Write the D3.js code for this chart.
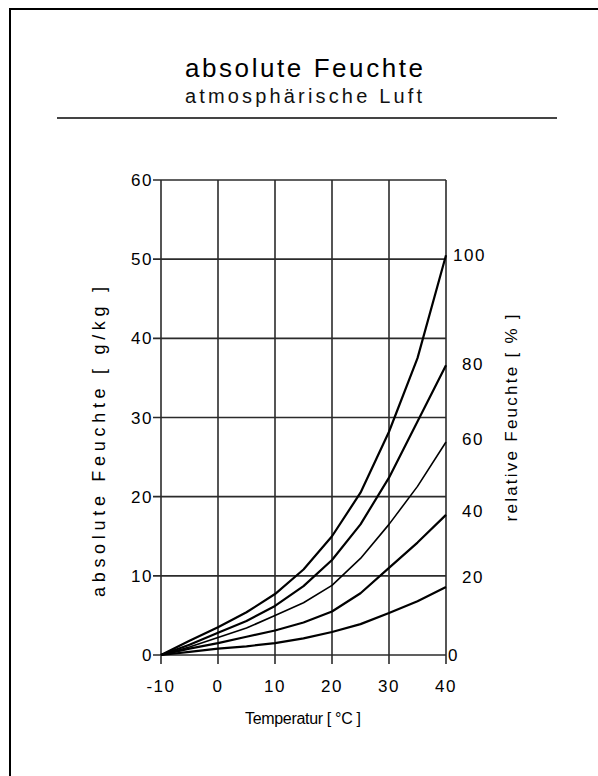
<!DOCTYPE html>
<html>
<head>
<meta charset="utf-8">
<script src="https://cdn.jsdelivr.net/npm/d3@7"></script>
<style>
  html, body { margin: 0; padding: 0; background: #fff; }
  svg { display: block; font-family: "Liberation Sans", Arial, sans-serif; }
</style>
</head>
<body>
<svg id="chart" width="598" height="776"></svg>
<script>
// temperature steps (°C)
var temps = [-10, -5, 0, 5, 10, 15, 20, 25, 30, 35, 40];
// absolute humidity in g/kg for each relative humidity
var rh100 = [0, 1.8, 3.5, 5.4, 7.7, 10.8, 15.0, 20.5, 28.2, 37.5, 50.5];
var rh80  = [0, 1.3, 2.8, 4.3, 6.2, 8.7, 12.0, 16.5, 22.4, 29.5, 36.6];
var rh60  = [0, 1.0, 2.2, 3.4, 5.0, 6.6, 8.8, 12.2, 16.5, 21.3, 26.9];
var rh40  = [0, 0.8, 1.5, 2.3, 3.1, 4.1, 5.5, 7.8, 11.0, 14.2, 17.7];
var rh20  = [0, 0.4, 0.8, 1.1, 1.5, 2.1, 2.9, 3.9, 5.3, 6.8, 8.6];
var xTicks = [-10, 0, 10, 20, 30, 40];
var yTicks = [0, 10, 20, 30, 40, 50, 60];
// right axis labels and the g/kg level where each sits
var rhLabels = ["0", "20", "40", "60", "80", "100"];
var rhLabelAt = [0, 9.8, 18.2, 27.3, 36.7, 50.5];

var svg = d3.select("#chart");

var x = d3.scaleLinear().domain([-10, 40]).range([161, 446]);
var y = d3.scaleLinear().domain([0, 60]).range([655, 180]);
var gridColor = "#2b2b2b";

// frame
svg.append("rect")
    .attr("x", 10).attr("y", 9)
    .attr("width", 640).attr("height", 800)
    .attr("fill", "none")
    .attr("stroke", "#000")
    .attr("stroke-width", 2);

// title
svg.append("text")
    .attr("x", 185).attr("y", 77)
    .attr("font-size", 26)
    .attr("textLength", 238)
    .attr("lengthAdjust", "spacing")
    .text("absolute Feuchte");

svg.append("text")
    .attr("x", 185).attr("y", 103)
    .attr("font-size", 20)
    .attr("fill", "#111")
    .attr("textLength", 237)
    .attr("lengthAdjust", "spacing")
    .text("atmosphärische Luft");

svg.append("line")
    .attr("x1", 57).attr("x2", 557)
    .attr("y1", 118).attr("y2", 118)
    .attr("stroke", "#444")
    .attr("stroke-width", 2);

// grid
svg.selectAll("line.vgrid")
    .data(xTicks)
    .enter()
    .append("line")
    .attr("class", "vgrid")
    .attr("x1", function(d) { return x(d); })
    .attr("x2", function(d) { return x(d); })
    .attr("y1", y(60))
    .attr("y2", y(0) + 9)
    .attr("stroke", gridColor)
    .attr("stroke-width", 1.6);

svg.selectAll("line.hgrid")
    .data(yTicks)
    .enter()
    .append("line")
    .attr("class", "hgrid")
    .attr("x1", x(-10) - 8)
    .attr("x2", x(40))
    .attr("y1", function(d) { return y(d); })
    .attr("y2", function(d) { return y(d); })
    .attr("stroke", gridColor)
    .attr("stroke-width", 1.6);

// tick labels
svg.selectAll("text.xlab")
    .data(xTicks)
    .enter()
    .append("text")
    .attr("class", "xlab")
    .attr("x", function(d) { return x(d); })
    .attr("y", 692)
    .attr("text-anchor", "middle")
    .attr("font-size", 17)
    .attr("letter-spacing", 1.5)
    .text(function(d) { return d; });

svg.selectAll("text.ylab")
    .data(yTicks)
    .enter()
    .append("text")
    .attr("class", "ylab")
    .attr("x", x(-10) - 8)
    .attr("y", function(d) { return y(d) + 6; })
    .attr("text-anchor", "end")
    .attr("font-size", 17)
    .attr("letter-spacing", 1.5)
    .text(function(d) { return d; });

svg.selectAll("text.rlab")
    .data(rhLabels)
    .enter()
    .append("text")
    .attr("class", "rlab")
    .attr("x", function(d) { return d === "0" ? x(40) + 2 : (d === "100" ? x(40) + 7 : x(40) + 16); })
    .attr("y", function(d, i) { return y(rhLabelAt[i]) + 6; })
    .attr("font-size", 17)
    .attr("letter-spacing", 1.5)
    .text(function(d) { return d; });

// axis titles
svg.append("text")
    .attr("transform", "translate(105,442) rotate(-90)")
    .attr("text-anchor", "middle")
    .attr("font-size", 18)
    .attr("textLength", 310)
    .attr("lengthAdjust", "spacing")
    .text("absolute Feuchte [ g/kg ]");

svg.append("text")
    .attr("transform", "translate(517,418) rotate(-90)")
    .attr("text-anchor", "middle")
    .attr("font-size", 17)
    .attr("textLength", 207)
    .attr("lengthAdjust", "spacing")
    .text("relative Feuchte [ % ]");

svg.append("text")
    .attr("x", 303).attr("y", 724)
    .attr("text-anchor", "middle")
    .attr("font-size", 16)
    .attr("textLength", 116)
    .attr("lengthAdjust", "spacing")
    .text("Temperatur [ °C ]");

// curves
var series = [rh100, rh80, rh60, rh40, rh20];
var line = d3.line()
    .x(function(d, i) { return x(temps[i]); })
    .y(function(d) { return y(d); });

svg.selectAll("path.rh")
    .data(series)
    .enter()
    .append("path")
    .attr("class", "rh")
    .attr("d", line)
    .attr("fill", "none")
    .attr("stroke", "#000")
    .attr("stroke-width", function(d, i) { return i === 2 ? 1.6 : 2.2; })
    .attr("stroke-linejoin", "round");
</script>
</body>
</html>
